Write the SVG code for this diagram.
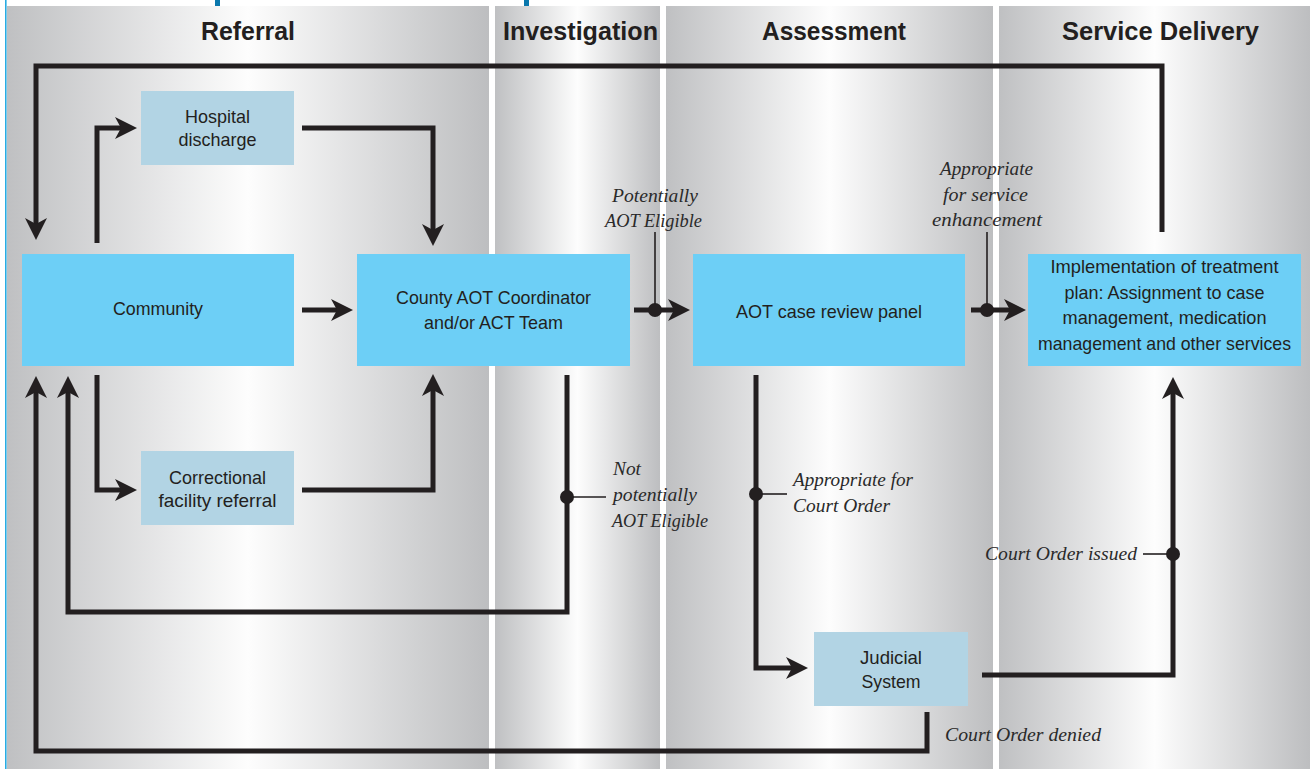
<svg xmlns="http://www.w3.org/2000/svg" width="1310" height="769" viewBox="0 0 1310 769">
<defs>
<linearGradient id="colg" x1="0" y1="0" x2="1" y2="0">
<stop offset="0" stop-color="#bfc0c2"/>
<stop offset="0.5" stop-color="#fdfdfd"/>
<stop offset="1" stop-color="#bdbec0"/>
</linearGradient>
<marker id="arr" markerUnits="userSpaceOnUse" viewBox="0 -12 24 24" refX="12" refY="0" markerWidth="24" markerHeight="24" orient="auto">
<path d="M0,-11 L22,0 L0,11 L6,0 Z" fill="#231f20"/>
</marker>
<style>
.col{fill:url(#colg);}
.hdr{font-family:"Liberation Sans Narrow","Liberation Sans",Arial,sans-serif;font-weight:bold;font-size:25px;fill:#231f20;}
.nt{font-family:"Liberation Sans Narrow","Liberation Sans",Arial,sans-serif;font-size:19px;fill:#231f20;text-anchor:middle;}
.lb{font-family:"Liberation Serif","Times New Roman",serif;font-style:italic;font-size:19px;fill:#2a2a2a;}
.bright{fill:#6dcff6;}
.pale{fill:#b2d4e4;}
.conn{fill:none;stroke:#231f20;stroke-width:5;stroke-linejoin:miter;stroke-linecap:butt;}
.thin{fill:none;stroke:#231f20;stroke-width:1.6;}
.dot{fill:#231f20;}
</style>
</defs>
<rect x="0" y="0" width="1310" height="769" fill="#ffffff"/>
<g id="background">
<rect class="col" x="7" y="6" width="482" height="763"/>
<rect class="col" x="495" y="6" width="165" height="763"/>
<rect class="col" x="666" y="6" width="327" height="763"/>
<rect class="col" x="999" y="6" width="311" height="763"/>
<rect x="5" y="0" width="1.6" height="769" fill="#29abe2"/>
<rect x="215" y="0" width="5" height="6" fill="#0a78ad"/>
<rect x="524" y="0" width="5" height="6" fill="#0a78ad"/>
</g>
<g id="headers">
<text class="hdr" x="201" y="40" textLength="94" lengthAdjust="spacingAndGlyphs">Referral</text>
<text class="hdr" x="503" y="40" textLength="155" lengthAdjust="spacingAndGlyphs">Investigation</text>
<text class="hdr" x="762" y="40" textLength="144" lengthAdjust="spacingAndGlyphs">Assessment</text>
<text class="hdr" x="1062" y="40" textLength="197" lengthAdjust="spacingAndGlyphs">Service Delivery</text>
</g>
<g id="connectors">
<path class="conn" d="M1162,232 V66 H36 V230" marker-end="url(#arr)"/>
<path class="conn" d="M97,243 V128 H127" marker-end="url(#arr)"/>
<path class="conn" d="M302,128 H433 V236" marker-end="url(#arr)"/>
<path class="conn" d="M302,310 H343" marker-end="url(#arr)"/>
<path class="conn" d="M97,375 V490 H127" marker-end="url(#arr)"/>
<path class="conn" d="M302,490 H433 V384" marker-end="url(#arr)"/>
<path class="conn" d="M634,310 H680" marker-end="url(#arr)"/>
<path class="conn" d="M971,310 H1016" marker-end="url(#arr)"/>
<path class="conn" d="M567,375 V612 H68 V386" marker-end="url(#arr)"/>
<path class="conn" d="M756,375 V668 H798" marker-end="url(#arr)"/>
<path class="conn" d="M982,675 H1173 V387" marker-end="url(#arr)"/>
<path class="conn" d="M927,712 V751 H36 V386" marker-end="url(#arr)"/>
<line class="thin" x1="655" y1="232" x2="655" y2="310"/>
<line class="thin" x1="987" y1="232" x2="987" y2="310"/>
<line class="thin" x1="567" y1="497" x2="606" y2="497"/>
<line class="thin" x1="756" y1="494" x2="787" y2="494"/>
<line class="thin" x1="1143" y1="554" x2="1173" y2="554"/>
<circle class="dot" cx="655" cy="310" r="7"/>
<circle class="dot" cx="987" cy="310" r="7"/>
<circle class="dot" cx="567" cy="497" r="7"/>
<circle class="dot" cx="756" cy="494" r="7"/>
<circle class="dot" cx="1173" cy="554" r="7"/>
</g>
<g id="labels">
<text class="lb" x="612" y="202" textLength="86" lengthAdjust="spacingAndGlyphs">Potentially</text>
<text class="lb" x="605" y="227" textLength="97" lengthAdjust="spacingAndGlyphs">AOT Eligible</text>
<text class="lb" x="940" y="175" textLength="93" lengthAdjust="spacingAndGlyphs">Appropriate</text>
<text class="lb" x="943" y="201" textLength="85" lengthAdjust="spacingAndGlyphs">for service</text>
<text class="lb" x="932" y="226" textLength="110" lengthAdjust="spacingAndGlyphs">enhancement</text>
<text class="lb" x="613" y="475" textLength="28" lengthAdjust="spacingAndGlyphs">Not</text>
<text class="lb" x="613" y="501" textLength="84" lengthAdjust="spacingAndGlyphs">potentially</text>
<text class="lb" x="612" y="527" textLength="96" lengthAdjust="spacingAndGlyphs">AOT Eligible</text>
<text class="lb" x="793" y="486" textLength="120" lengthAdjust="spacingAndGlyphs">Appropriate for</text>
<text class="lb" x="793" y="512" textLength="97" lengthAdjust="spacingAndGlyphs">Court Order</text>
<text class="lb" x="985" y="560" textLength="152" lengthAdjust="spacingAndGlyphs">Court Order issued</text>
<text class="lb" x="945" y="741" textLength="156" lengthAdjust="spacingAndGlyphs">Court Order denied</text>
</g>
<g id="node-hospital">
<rect class="pale" x="141" y="91" width="153" height="74"/>
<text class="nt" x="217.5" y="123" textLength="65" lengthAdjust="spacingAndGlyphs">Hospital</text>
<text class="nt" x="217.5" y="146" textLength="78" lengthAdjust="spacingAndGlyphs">discharge</text>
</g>
<g id="node-community">
<rect class="bright" x="22" y="254" width="272" height="112"/>
<text class="nt" x="158" y="315" textLength="90" lengthAdjust="spacingAndGlyphs">Community</text>
</g>
<g id="node-correctional">
<rect class="pale" x="141" y="451" width="153" height="74"/>
<text class="nt" x="217.5" y="484" textLength="97" lengthAdjust="spacingAndGlyphs">Correctional</text>
<text class="nt" x="217.5" y="507" textLength="118" lengthAdjust="spacingAndGlyphs">facility referral</text>
</g>
<g id="node-county">
<rect class="bright" x="357" y="254" width="273" height="112"/>
<text class="nt" x="493.5" y="304" textLength="195" lengthAdjust="spacingAndGlyphs">County AOT Coordinator</text>
<text class="nt" x="493.5" y="329" textLength="139" lengthAdjust="spacingAndGlyphs">and/or ACT Team</text>
</g>
<g id="node-panel">
<rect class="bright" x="693" y="254" width="272" height="112"/>
<text class="nt" x="829" y="318" textLength="186" lengthAdjust="spacingAndGlyphs">AOT case review panel</text>
</g>
<g id="node-implementation">
<rect class="bright" x="1028" y="254" width="273" height="112"/>
<text class="nt" x="1164.5" y="273" textLength="228" lengthAdjust="spacingAndGlyphs">Implementation of treatment</text>
<text class="nt" x="1164.5" y="299" textLength="200" lengthAdjust="spacingAndGlyphs">plan: Assignment to case</text>
<text class="nt" x="1164.5" y="324" textLength="204" lengthAdjust="spacingAndGlyphs">management, medication</text>
<text class="nt" x="1164.5" y="350" textLength="253" lengthAdjust="spacingAndGlyphs">management and other services</text>
</g>
<g id="node-judicial">
<rect class="pale" x="814" y="632" width="154" height="74"/>
<text class="nt" x="891" y="664" textLength="62" lengthAdjust="spacingAndGlyphs">Judicial</text>
<text class="nt" x="891" y="688" textLength="59" lengthAdjust="spacingAndGlyphs">System</text>
</g>
</svg>
